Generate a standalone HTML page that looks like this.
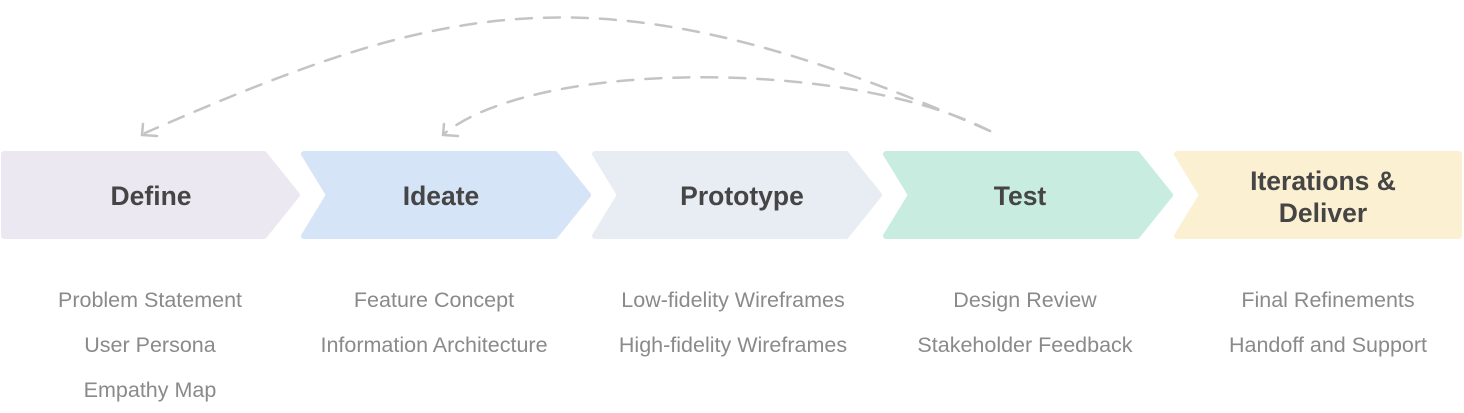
<!DOCTYPE html>
<html><head><meta charset="utf-8"><style>
html,body{margin:0;padding:0;background:#fff;width:1464px;height:413px;overflow:hidden}
svg{display:block}
.t{font-family:"Liberation Sans",sans-serif;font-weight:bold;font-size:26.5px;fill:#454545;text-anchor:middle}
.s{font-family:"Liberation Sans",sans-serif;font-size:21.5px;fill:#8a8a8a;text-anchor:middle}
</style></head><body>
<svg width="1464" height="413" viewBox="0 0 1464 413">
<g stroke-linejoin="round" stroke-width="6">
<path d="M4 154 H264 L297 195 L264 236 H4 Z" fill="#ece8f1" stroke="#ece8f1"/>
<path d="M304 154 H555 L588 195 L555 236 H304 L329 195 Z" fill="#d6e4f7" stroke="#d6e4f7"/>
<path d="M595 154 H846 L879 195 L846 236 H595 L620 195 Z" fill="#e8edf3" stroke="#e8edf3"/>
<path d="M886 154 H1137 L1170 195 L1137 236 H886 L911 195 Z" fill="#c8ede0" stroke="#c8ede0"/>
<path d="M1177 154 H1459 V236 H1177 L1202 195 Z" fill="#fbf0d2" stroke="#fbf0d2"/>
</g>
<g fill="none" stroke="#c4c4c4" stroke-width="2.5" stroke-linecap="round">
<path d="M990 131 C 600 -40, 450 0, 145 133" stroke-dasharray="16 12"/>
<path d="M990 131 C 850 59, 538 59, 445 133" stroke-dasharray="16 12"/>
<path d="M143 124 L142 135 L157 136"/>
<path d="M444 124 L443 135 L458 136"/>
</g>
<text class="t" x="151" y="205">Define</text>
<text class="t" x="441" y="205">Ideate</text>
<text class="t" x="742" y="205">Prototype</text>
<text class="t" x="1020" y="205">Test</text>
<text class="t" x="1323" y="190">Iterations &amp;</text>
<text class="t" x="1323" y="222">Deliver</text>
<text class="s" x="150" y="307">Problem Statement</text>
<text class="s" x="150" y="352">User Persona</text>
<text class="s" x="150" y="397">Empathy Map</text>
<text class="s" x="434" y="307">Feature Concept</text>
<text class="s" x="434" y="352">Information Architecture</text>
<text class="s" x="733" y="307">Low-fidelity Wireframes</text>
<text class="s" x="733" y="352">High-fidelity Wireframes</text>
<text class="s" x="1025" y="307">Design Review</text>
<text class="s" x="1025" y="352">Stakeholder Feedback</text>
<text class="s" x="1328" y="307">Final Refinements</text>
<text class="s" x="1328" y="352">Handoff and Support</text>
</svg>
</body></html>
